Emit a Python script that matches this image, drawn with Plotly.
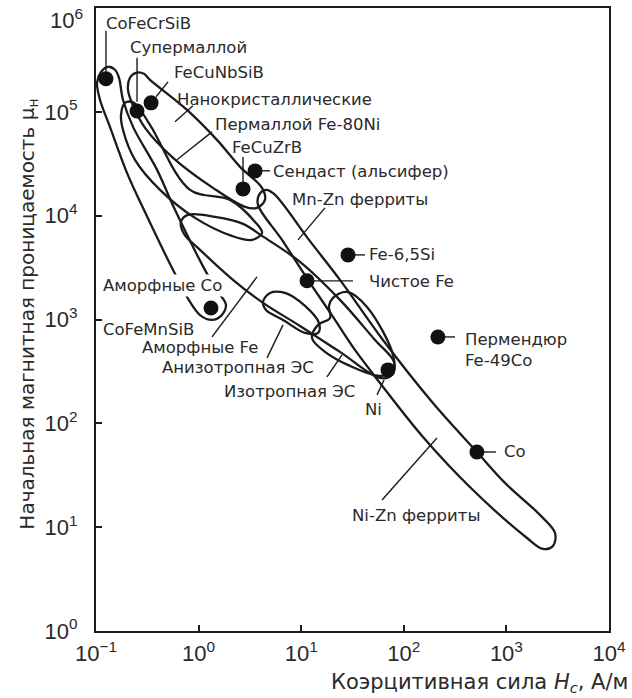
import numpy as np
import plotly.graph_objects as go

# ---------------- data: named materials (coercivity Hc, A/m ; initial permeability) -------------
point_names = ["CoFeCrSiB", "Супермаллой", "FeCuNbSiB", "FeCuZrB", "Сендаст", "CoFeMnSiB",
               "Fe-6,5Si", "Чистое Fe", "Пермендюр", "Ni", "Co"]
point_hc = [0.125, 0.251, 0.344, 2.71, 3.55, 1.32, 28.6, 11.4, 215, 70.1, 516]
point_mu = [2.08e5, 1.02e5, 1.22e5, 1.81e4, 2.70e4, 1.29e3, 4.19e3, 2.36e3, 679, 327, 53]

# ---------------- data: region outlines, log10(Hc) and log10(mu) ------------------------------
amco_lhc = [-0.990, -0.951, -0.883, -0.815, -0.776, -0.737, -0.639, -0.405, -0.230, 0.072, 0.189,
            0.267, 0.218, 0.131, 0.023, -0.084, -0.240, -0.533, -0.698, -0.864, -0.961]
amco_lmu = [5.279, 5.385, 5.434, 5.405, 5.328, 5.116, 4.855, 4.441, 4.056, 3.459, 3.266,
            3.141, 3.035, 2.996, 3.035, 3.170, 3.459, 4.056, 4.412, 4.855, 5.116]

nano_lhc = [0.179, 0.404, 0.618, 0.647, 0.569, 0.452, 0.140, -0.249, -0.522, -0.630, -0.688,
            -0.669, -0.610, -0.533, -0.474, -0.113]
nano_lmu = [4.730, 4.470, 4.268, 4.152, 4.075, 4.085, 4.268, 4.557, 4.846, 5.039, 5.212,
            5.328, 5.376, 5.366, 5.308, 5.019]

perm_lhc = [-0.084, 0.306, 0.550, 0.618, 0.520, 0.325, -0.035, -0.376, -0.620, -0.737, -0.756,
            -0.717, -0.630, -0.474]
perm_lmu = [4.249, 4.152, 3.940, 3.834, 3.767, 3.805, 3.979, 4.249, 4.538, 4.827, 4.971,
            5.087, 5.087, 4.875]

amfe_lhc = [0.988, 1.378, 1.719, 1.904, 1.885, 1.768, 1.378, 0.988, 0.628, 0.335, 0.014,
            -0.142, -0.172, -0.103, 0.160, 0.433, 0.618]
amfe_lmu = [3.555, 3.189, 2.803, 2.592, 2.466, 2.437, 2.688, 2.938, 3.160, 3.382, 3.671,
            3.825, 3.940, 4.008, 3.988, 3.921, 3.805]

# Mn-Zn / Ni-Zn ferrite band
ferr_lhc = [1.076, 1.378, 1.797, 2.284, 2.713, 2.986, 3.327, 3.474, 3.454, 3.357, 3.201,
            2.674, 2.187, 1.768, 1.524, 1.310, 1.066, 0.813, 0.579, 0.589, 0.657, 0.735]
ferr_lmu = [3.767, 3.382, 2.803, 2.196, 1.724, 1.426, 1.118, 0.944, 0.819, 0.790, 0.896,
            1.358, 1.869, 2.389, 2.707, 3.025, 3.382, 3.767, 4.104, 4.200, 4.249, 4.210]

aniso_lhc = [0.628, 0.696, 0.842, 1.037, 1.173, 1.164, 1.037, 0.823, 0.657]
aniso_lmu = [3.170, 3.256, 3.256, 3.131, 2.967, 2.871, 2.871, 2.996, 3.092]

iso_lhc = [1.310, 1.446, 1.641, 1.895, 1.895, 1.768, 1.475, 1.232, 1.105, 1.164, 1.281, 1.271]
iso_lmu = [3.208, 3.266, 3.121, 2.659, 2.495, 2.457, 2.553, 2.688, 2.823, 2.948, 3.015, 3.131]

regions = [(amco_lhc, amco_lmu), (nano_lhc, nano_lmu), (perm_lhc, perm_lmu),
           (amfe_lhc, amfe_lmu), (ferr_lhc, ferr_lmu),
           (aniso_lhc, aniso_lmu), (iso_lhc, iso_lmu)]

# ---------------- labels: text, anchor (log10 Hc, log10 mu) ------------------------------------
labels = [
    ("CoFeCrSiB", -0.922, 5.848),
    ("Супермаллой", -0.688, 5.617),
    ("FeCuNbSiB", -0.259, 5.376),
    ("Нанокристаллические", -0.230, 5.116),
    ("Пермаллой Fe-80Ni", 0.140, 4.875),
    ("FeCuZrB", 0.306, 4.653),
    ("Сендаст (альсифер)", 0.706, 4.422),
    ("Mn-Zn ферриты", 0.891, 4.152),
    ("Fe-6,5Si", 1.641, 3.622),
    ("Чистое Fe", 1.641, 3.362),
    ("Пермендюр<br>Fe-49Co", 2.577, 2.707),
    ("Co", 2.957, 1.724),
    ("Ni", 1.602, 2.129),
    ("Ni-Zn ферриты", 1.475, 1.108),
    ("Изотропная ЭС", 0.228, 2.303),
    ("Анизотропная ЭС", -0.376, 2.534),
    ("Аморфные Fe", -0.571, 2.726),
    ("CoFeMnSiB", -0.951, 2.900),
    ("Аморфные Co", -0.951, 3.324),
]

# leader lines (log10 Hc pair, log10 mu pair)
leaders = [
    ((-0.903, -0.903), (5.780, 5.385)),
    ((-0.600, -0.600), (5.520, 5.096)),
    ((-0.298, -0.415), (5.289, 5.145)),
    ((-0.055, -0.230), (5.058, 4.904)),
    ((0.131, -0.211), (4.807, 4.538)),
    ((0.433, 0.433), (4.566, 4.326)),
    ((0.550, 0.696), (4.432, 4.432)),
    ((1.232, 0.969), (4.075, 3.767)),
    ((1.456, 1.622), (3.622, 3.622)),
    ((1.056, 1.505), (3.372, 3.372)),
    ((2.333, 2.499), (2.832, 2.832)),
    ((2.713, 2.898), (1.724, 1.724)),
    ((1.739, 1.807), (2.274, 2.418)),
    ((1.788, 2.323), (1.262, 1.859)),
    ((1.251, 1.398), (2.447, 2.659)),
    ((0.667, 0.823), (2.630, 2.948)),
    ((0.131, 0.569), (2.832, 3.410)),
]

x_tick_exp = [-1, 0, 1, 2, 3, 4]
y_tick_exp = [0, 1, 2, 3, 4, 5, 6]

INK = "#1b1b1b"
TEXT = "#2a2a2a"
LABEL_FONT = dict(family="DejaVu Sans", size=16.5, color=TEXT)

fig = go.Figure()

for lhc, lmu in regions:
    xs = list(10 ** np.array(lhc)) + [10 ** lhc[0]]
    ys = list(10 ** np.array(lmu)) + [10 ** lmu[0]]
    fig.add_trace(go.Scatter(x=xs, y=ys, mode="lines",
                             line=dict(color=INK, width=2.3, shape="spline", smoothing=1.0),
                             hoverinfo="skip", showlegend=False))

for (lx, ly) in leaders:
    fig.add_trace(go.Scatter(x=10 ** np.array(lx), y=10 ** np.array(ly), mode="lines",
                             line=dict(color=INK, width=1.4), hoverinfo="skip", showlegend=False))

fig.add_trace(go.Scatter(x=point_hc, y=point_mu, mode="markers", hovertext=point_names,
                         hoverinfo="text+x+y",
                         marker=dict(size=15, color="#111111"), showlegend=False))

for text, lx, ly in labels:
    bg = "white" if text == "Аморфные Co" else "rgba(0,0,0,0)"
    fig.add_annotation(x=lx, y=ly, xref="x", yref="y", text=text, showarrow=False,
                       xanchor="left", yanchor="middle", align="left", font=LABEL_FONT,
                       bgcolor=bg, borderpad=1)

fig.add_annotation(xref="paper", yref="paper", x=1.04, y=-0.084, xanchor="right", yanchor="middle",
                   text="Коэрцитивная сила <i>H</i><sub><i>c</i></sub>, А/м", showarrow=False,
                   font=dict(family="DejaVu Sans", size=21, color=TEXT))
fig.add_annotation(xref="paper", yref="paper", x=-0.133, y=0.509, xanchor="center", yanchor="middle",
                   text="Начальная магнитная проницаемость μ<sub>н</sub>", textangle=-90,
                   showarrow=False, font=dict(family="DejaVu Sans", size=20, color=TEXT))

TICK_FONT = dict(family="Liberation Sans", size=22, color=TEXT)
# top tick label sits slightly below the frame corner, as in the original
fig.add_annotation(xref="paper", yref="paper", x=-0.022, y=0.982, xanchor="right", yanchor="middle",
                   text=f"10<sup>{y_tick_exp[-1]}</sup>", showarrow=False, font=TICK_FONT)

axis_common = dict(type="log", showgrid=False, zeroline=False, showline=True, linecolor=INK,
                   linewidth=2, mirror=True, ticks="inside", ticklen=6, tickwidth=1.6,
                   tickcolor=INK, automargin=False, tickfont=TICK_FONT)

fig.update_xaxes(**axis_common, range=[-1, 4],
                 tickvals=[10.0 ** e for e in x_tick_exp],
                 ticktext=[f"10<sup>{str(e).replace('-', '−')}</sup>" for e in x_tick_exp],
                 ticklabelstandoff=2)
fig.update_yaxes(**axis_common, range=[0, 6],
                 tickvals=[10.0 ** e for e in y_tick_exp],
                 ticktext=[f"10<sup>{e}</sup>" if e != y_tick_exp[-1] else "" for e in y_tick_exp],
                 ticklabelstandoff=12)

fig.update_layout(width=632, height=698, margin=dict(l=96, r=23, t=8, b=67, autoexpand=False),
                  plot_bgcolor="white", paper_bgcolor="white", showlegend=False)

fig.write_html("out.html", config={"displayModeBar": False},
               post_script="document.body.style.margin='0';document.body.style.overflow='hidden';")
